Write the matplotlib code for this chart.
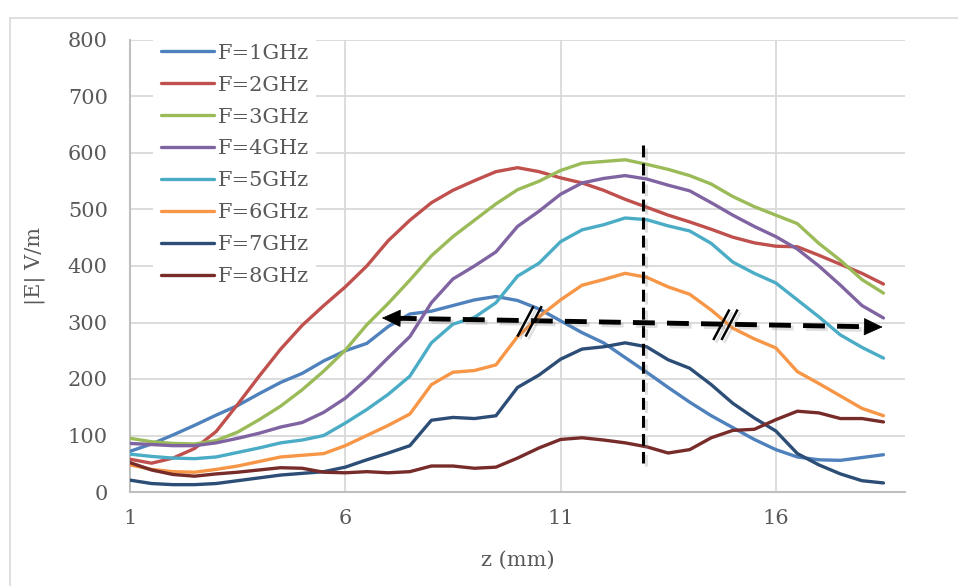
import numpy as np
import matplotlib.pyplot as plt
import matplotlib.patheffects as pe
from matplotlib.lines import Line2D

# z positions (mm), sampled every 0.5 mm
z = np.arange(1, 18.51, 0.5)

# |E| values, one list per frequency
f1 = [72, 85, 101, 118, 136, 153, 174, 194, 210, 232, 250, 263, 293, 315, 320, 330,
      340, 346, 339, 324, 303, 282, 264, 238, 212, 185, 159, 135, 114, 93, 75, 62,
      57, 56, 61, 66]
f2 = [58, 51, 60, 77, 107, 155, 205, 253, 295, 330, 363, 400, 445, 481, 512, 534,
      551, 567, 574, 567, 556, 547, 534, 518, 504, 490, 478, 465, 451, 441, 435, 434,
      419, 403, 387, 368]
f3 = [95, 89, 86, 85, 91, 106, 128, 152, 181, 214, 251, 296, 334, 375, 418, 452,
      481, 510, 535, 550, 569, 582, 585, 588, 580, 571, 560, 545, 523, 505, 490, 475,
      440, 410, 376, 352]
f4 = [86, 84, 82, 82, 87, 95, 104, 115, 123, 141, 166, 200, 238, 275, 335, 377,
      400, 425, 470, 497, 527, 547, 555, 560, 554, 543, 533, 512, 490, 470, 452, 430,
      400, 366, 330, 308]
f5 = [67, 63, 60, 59, 62, 70, 78, 87, 92, 100, 122, 146, 173, 205, 264, 297,
      309, 335, 382, 405, 443, 464, 473, 485, 482, 471, 462, 440, 407, 387, 370, 340,
      310, 278, 256, 237]
f6 = [48, 40, 36, 35, 40, 46, 54, 62, 65, 68, 82, 100, 118, 138, 190, 212,
      215, 225, 275, 310, 340, 366, 376, 387, 380, 363, 350, 322, 290, 271, 255, 213,
      192, 170, 148, 135]
f7 = [21, 15, 13, 13, 15, 20, 25, 30, 33, 36, 44, 57, 69, 82, 127, 132,
      130, 135, 185, 207, 235, 253, 257, 264, 257, 234, 219, 190, 157, 131, 108, 68,
      48, 32, 20, 16]
f8 = [52, 39, 31, 28, 32, 35, 39, 43, 42, 35, 34, 36, 34, 36, 46, 46,
      42, 44, 60, 78, 93, 96, 92, 87, 80, 69, 75, 96, 109, 111, 128, 143,
      140, 130, 130, 124]

series = [f1, f2, f3, f4, f5, f6, f7, f8]
labels = ['F=1GHz', 'F=2GHz', 'F=3GHz', 'F=4GHz', 'F=5GHz', 'F=6GHz', 'F=7GHz', 'F=8GHz']
colors = ['#4F81BD', '#C0504D', '#9BBB59', '#8064A2', '#4BACC6', '#F79646', '#2C4D75', '#772C2A']

plt.rcParams['font.family'] = 'DejaVu Serif'
txt = '#595959'
fs = 15

fig = plt.figure(figsize=(9.58, 5.86), dpi=100)
ax = fig.add_axes([130 / 958, 1 - 492 / 586, 775 / 958, 452 / 586])

for vals, lab, col in zip(series, labels, colors):
    ax.plot(z, vals, color=col, lw=2.4, label=lab, solid_capstyle='round',
            solid_joinstyle='round', zorder=3)

ax.set_xlim(1, 19)
ax.set_ylim(0, 800)
ax.set_xticks([1, 6, 11, 16])
ax.set_yticks(range(0, 801, 100))
ax.grid(True, color='#d9d9d9', lw=1.3)
ax.set_axisbelow(True)
for s in ['top', 'right']:
    ax.spines[s].set_visible(False)
for s in ['left', 'bottom']:
    ax.spines[s].set_color('#bfbfbf')
    ax.spines[s].set_linewidth(1.5)
ax.tick_params(axis='both', length=0, labelsize=fs, labelcolor=txt)
ax.tick_params(axis='x', pad=12)
ax.tick_params(axis='y', pad=16)

ax.set_xlabel('z (mm)', fontsize=fs, color=txt)
ax.xaxis.set_label_coords(0.5, -0.13)
ax.set_ylabel('|E| V/m', fontsize=fs, color=txt)
ax.yaxis.set_label_coords(-0.11, 0.5)

leg = ax.legend(loc='upper left', bbox_to_anchor=(0.03, 1.008), borderaxespad=0,
                frameon=True, fancybox=False, framealpha=1, edgecolor='none',
                facecolor='white', fontsize=fs, handlelength=2.55, handletextpad=0.2,
                labelspacing=0.62, borderpad=0.35)
for t in leg.get_texts():
    t.set_color(txt)
leg.set_zorder(5)

# annotation: vertical dashed line, horizontal double arrow, break marks
shadow = [pe.SimpleLineShadow(offset=(2, -2), alpha=0.25, shadow_color='gray'), pe.Normal()]
ax.plot([12.91, 12.91], [614, 51], color='black', lw=2.2, dashes=(3.9, 2.0),
        zorder=6, path_effects=shadow)

zl, vl = 6.85, 308
zr, vr = 18.48, 292
ax.plot([zl + 0.3, zr - 0.3], [vl - 0.4, vr + 0.4], color='black', lw=3.5,
        dashes=(4.5, 2.5), zorder=6, path_effects=shadow)
for tip, back in [((zl, vl), (zl + 0.4, vl - 0.5)), ((zr, vr), (zr - 0.4, vr + 0.5))]:
    ax.annotate('', xy=tip, xytext=back, zorder=7,
                arrowprops=dict(arrowstyle='-|>,head_length=0.9,head_width=0.42',
                                color='black', lw=0.5, shrinkA=0, shrinkB=0,
                                mutation_scale=14))

for zc, vc in [(10.28, 302), (14.83, 296)]:
    for off in (-0.095, 0.095):
        ax.plot([zc + off - 0.174, zc + off + 0.174], [vc - 25, vc + 25],
                color='black', lw=1.8, zorder=7, path_effects=shadow)

# chart frame
fig.add_artist(Line2D([10 / 958, 10 / 958], [0, 1 - 18 / 586], transform=fig.transFigure,
                      color='#d9d9d9', lw=1.2))
fig.add_artist(Line2D([10 / 958, 1], [1 - 18 / 586, 1 - 18 / 586], transform=fig.transFigure,
                      color='#d9d9d9', lw=1.2))

fig.savefig('out.png', dpi=100)
